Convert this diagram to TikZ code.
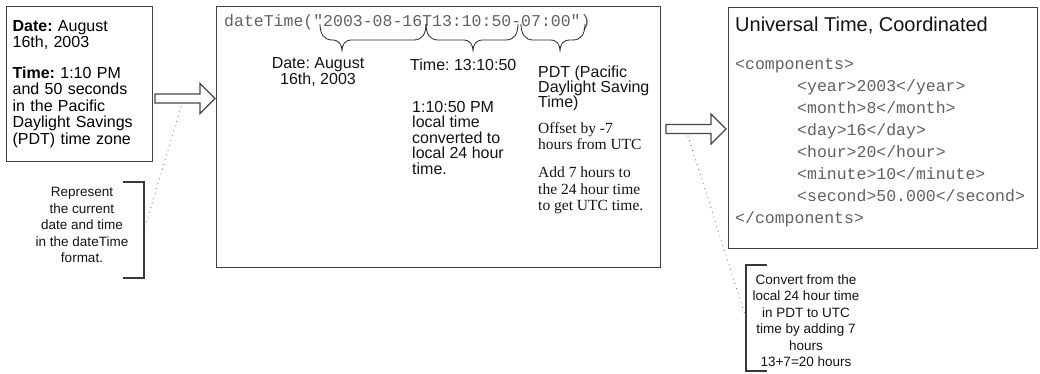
\documentclass[tikz,border=0pt]{standalone}
\usepackage{fontspec}
\setmainfont{Liberation Sans}
\setmonofont{Liberation Mono}
\newfontfamily\serifface{Liberation Serif}
\usetikzlibrary{calc}
\frenchspacing

\newcommand{\txtsize}[2]{\fontsize{#1}{#2}\selectfont}

\tikzset{
  fatarrow/.pic={
    \draw[fat] (0,-4.5) -- (45,-4.5) -- (45,-15) -- (60,0) -- (45,15) -- (45,4.5) -- (0,4.5) -- cycle;
  }
}

\begin{document}
\begin{tikzpicture}[
  x=1pt, y=-1pt,
  box/.style={draw=black!75, line width=1.3pt, inner sep=0pt, anchor=north west},
  txt/.style={inner sep=0pt, align=left, text=black!92, font=\txtsize{16}{16.5}},
  serif/.style={inner sep=0pt, align=left, text=black!92, font=\serifface\txtsize{15.5}{16.5}},
  code/.style={inner sep=0pt, align=left, text=black!62, font=\ttfamily\txtsize{16.5}{22}},
  note/.style={inner sep=0pt, align=center, text=black!92, font=\txtsize{13.5}{16.5}},
  fat/.style={draw=black!72, fill=white, line width=1.2pt, line join=miter},
  brc/.style={draw=black!85, line width=0.8pt},
  bracket/.style={draw=black!78, line width=1.5pt},
  dotline/.style={draw=black!60, line width=1.1pt, line cap=round, dash pattern=on 0pt off 5pt}
]
\path[fill=white] (0,0) rectangle (1040,374);
\useasboundingbox (0,0) rectangle (1040,374);

% input description
\node[box, minimum width=146pt, minimum height=155pt, text width=134pt, inner sep=6pt,
  align=left, font=\txtsize{16}{16.5}] (datebox) at (6,6)
  {\textbf{Date:} August\\16th, 2003\\[14pt]\textbf{Time:} 1:10 PM\\and 50 seconds\\in the Pacific\\Daylight Savings\\(PDT) time zone};

% dateTime literal and its parts
\node[box, minimum width=444pt, minimum height=261pt] (fmtbox) at (216,6) {};
\node[code, anchor=north west] (dtcall) at (224,14) {dateTime("2003-08-16T13:10:50-07:00")};
\foreach \xa/\xt/\xb in {320/342/426, 426/473/518, 521/560/585}
  \draw[brc] (\xa,24) .. controls (\xa,34) and (\xa+4,40) .. (\xa+12,40) -- (\xt-10,40)
    .. controls (\xt-3,40) and (\xt,44) .. (\xt,52)
    .. controls (\xt,44) and (\xt+3,40) .. (\xt+10,40) -- (\xb-12,40)
    .. controls (\xb-4,40) and (\xb,34) .. (\xb,24);

\node[txt, align=center, anchor=north] (datenote) at (318,57) {Date: August\\16th, 2003};
\node[txt, anchor=north west] (timenote) at (410,59) {Time: 13:10:50};
\node[txt, anchor=north west, font=\txtsize{16}{15.5}] (timedetail) at (412,101)
  {1:10:50 PM\\local time\\converted to\\local 24 hour\\time.};
\node[txt, anchor=north west, font=\txtsize{16}{15}] (zonenote) at (538,66)
  {PDT (Pacific\\Daylight Saving\\Time)};
\node[serif, anchor=north west] (offsetnote) at (538,122) {Offset by -7\\hours from UTC};
\node[serif, anchor=north west] (addnote) at (538,167) {Add 7 hours to\\the 24 hour time\\to get UTC time.};

% UTC result
\node[box, minimum width=309pt, minimum height=241pt] (utcbox) at (728,7) {};
\node[txt, anchor=north west, font=\txtsize{20}{22}] (utctitle) at (735,17) {Universal Time, Coordinated};
\node[code, anchor=north west] (xmlcode) at (735,58)
  {<components>\\
   \hspace*{62pt}<year>2003</year>\\
   \hspace*{62pt}<month>8</month>\\
   \hspace*{62pt}<day>16</day>\\
   \hspace*{62pt}<hour>20</hour>\\
   \hspace*{62pt}<minute>10</minute>\\
   \hspace*{62pt}<second>50.000</second>\\
   </components>};

% fat arrows
\pic at (155,98.5) {fatarrow};
\pic at (666,129) {fatarrow};

% callouts
\node[note, anchor=north] (repnote) at (82,187.5)
  {Represent\\the current\\date and time\\in the dateTime\\format.};
\draw[bracket] (123,182) -- (144,182) -- (144,278) -- (123,278);
\coordinate (tailA) at (181,107);
\coordinate (repmid) at (144,230);
\draw[dotline] (tailA) -- (repmid);

\node[note, anchor=north] (convnote) at (806,274.5)
  {Convert from the\\local 24 hour time\\in PDT to UTC\\time by adding 7\\hours\\13+7=20 hours};
\draw[bracket] (767,265) -- (746,265) -- (746,371) -- (767,371);
\coordinate (tailB) at (688,136);
\coordinate (convmid) at (746,318);
\draw[dotline] (tailB) -- (convmid);

\end{tikzpicture}
\end{document}
